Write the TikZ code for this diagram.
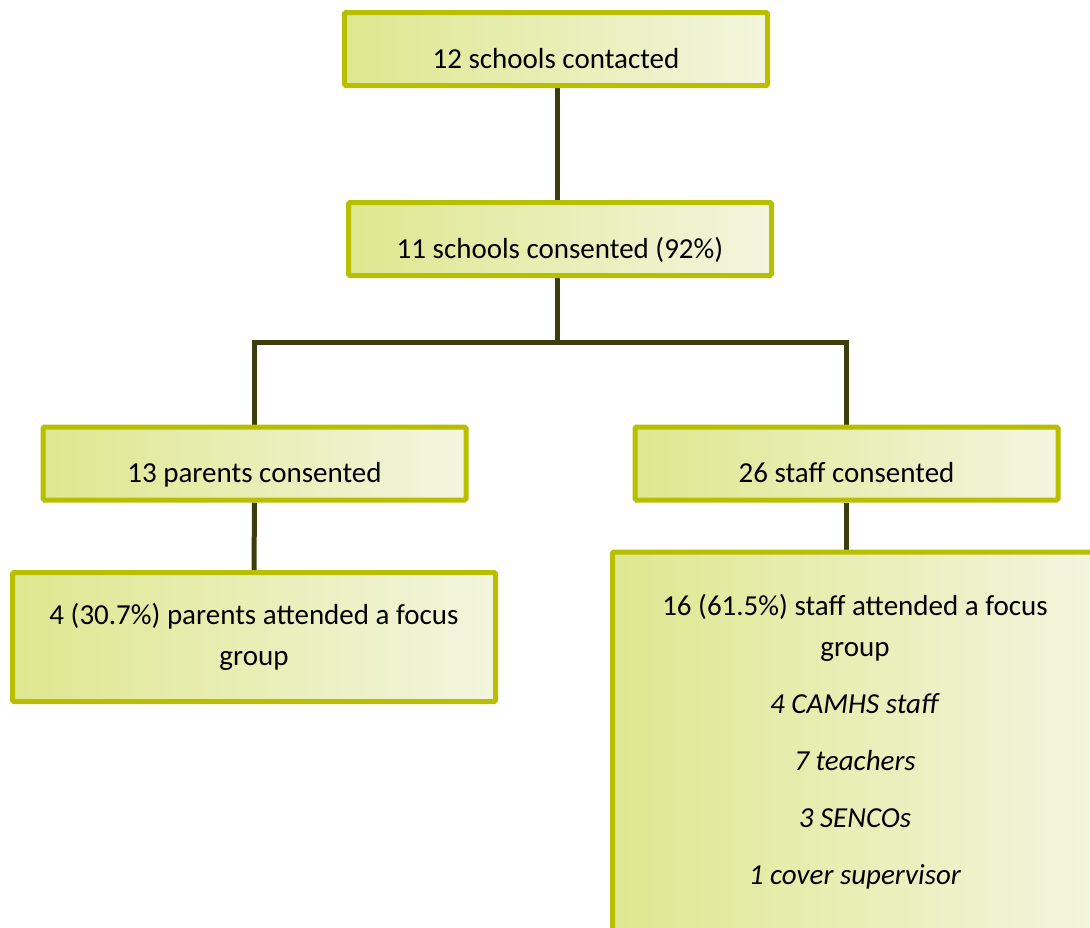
\documentclass[tikz,border=0pt]{standalone}
\usepackage{fontspec}
\setmainfont{Carlito}
\usepackage{tikz}
\usetikzlibrary{positioning,backgrounds}

\definecolor{boxline}{RGB}{184,191,0}
\definecolor{boxleft}{RGB}{223,231,143}
\definecolor{boxright}{RGB}{243,245,222}
\definecolor{linkline}{RGB}{59,62,12}

\tikzset{
  flowbox/.style={draw=boxline, line width=3.75pt, left color=boxleft, right color=boxright,
    rounded corners=1pt, inner sep=0pt, align=center,
    font=\fontsize{21.75}{30.75}\selectfont},
  onebox/.style={flowbox, text height=34pt, text depth=5.4pt},
  link/.style={draw=linkline, line width=3.75pt},
}

\begin{document}
\begin{tikzpicture}[x=0.75pt,y=-0.75pt]
        \useasboundingbox (0,0) rectangle (1090,928);
        \pgfmathsetmacro{\bw}{423}
        \pgfmathsetmacro{\bh}{73}
        \node[onebox, minimum width=\bw*0.75pt, minimum height=\bh*0.75pt] (contacted) at (556,49) {12 schools contacted};
        \node[onebox, minimum width=\bw*0.75pt, minimum height=\bh*0.75pt] (consented) at (560,239) {11 schools consented (92\%)};
        \node[onebox, minimum width=\bw*0.75pt, minimum height=\bh*0.75pt] (parents) at (254.5,463.5) {13 parents consented};
        \node[onebox, minimum width=\bw*0.75pt, minimum height=\bh*0.75pt] (staff) at (846.5,463.5) {26 staff consented};
        \node[flowbox, minimum width=483*0.75pt, minimum height=129*0.75pt] (parentsfg) at (254,637)
          {4 (30.7\%) parents attended a focus\\group};
        \node[flowbox, minimum width=485*0.75pt, minimum height=380*0.75pt] (stafffg) at (855,742)
          {16 (61.5\%) staff attended a focus\\group\\[12pt]
           \textit{4 CAMHS staff}\\[12pt]
           \textit{7 teachers}\\[12pt]
           \textit{3 SENCOs}\\[12pt]
           \textit{1 cover supervisor}};
        \coordinate (split) at (557,342);
        \begin{scope}[on background layer]
          \draw[link] (split |- contacted.south) -- (split |- consented.north);
          \draw[link] (split |- consented.south) -- (split);
          \draw[link] (parents.north) |- (split) -| (staff.north);
          \draw[link] (parents.south) -- (parentsfg.north);
          \draw[link] (staff.south) -- (staff.south |- stafffg.north);
        \end{scope}
    \end{tikzpicture}
\end{document}
